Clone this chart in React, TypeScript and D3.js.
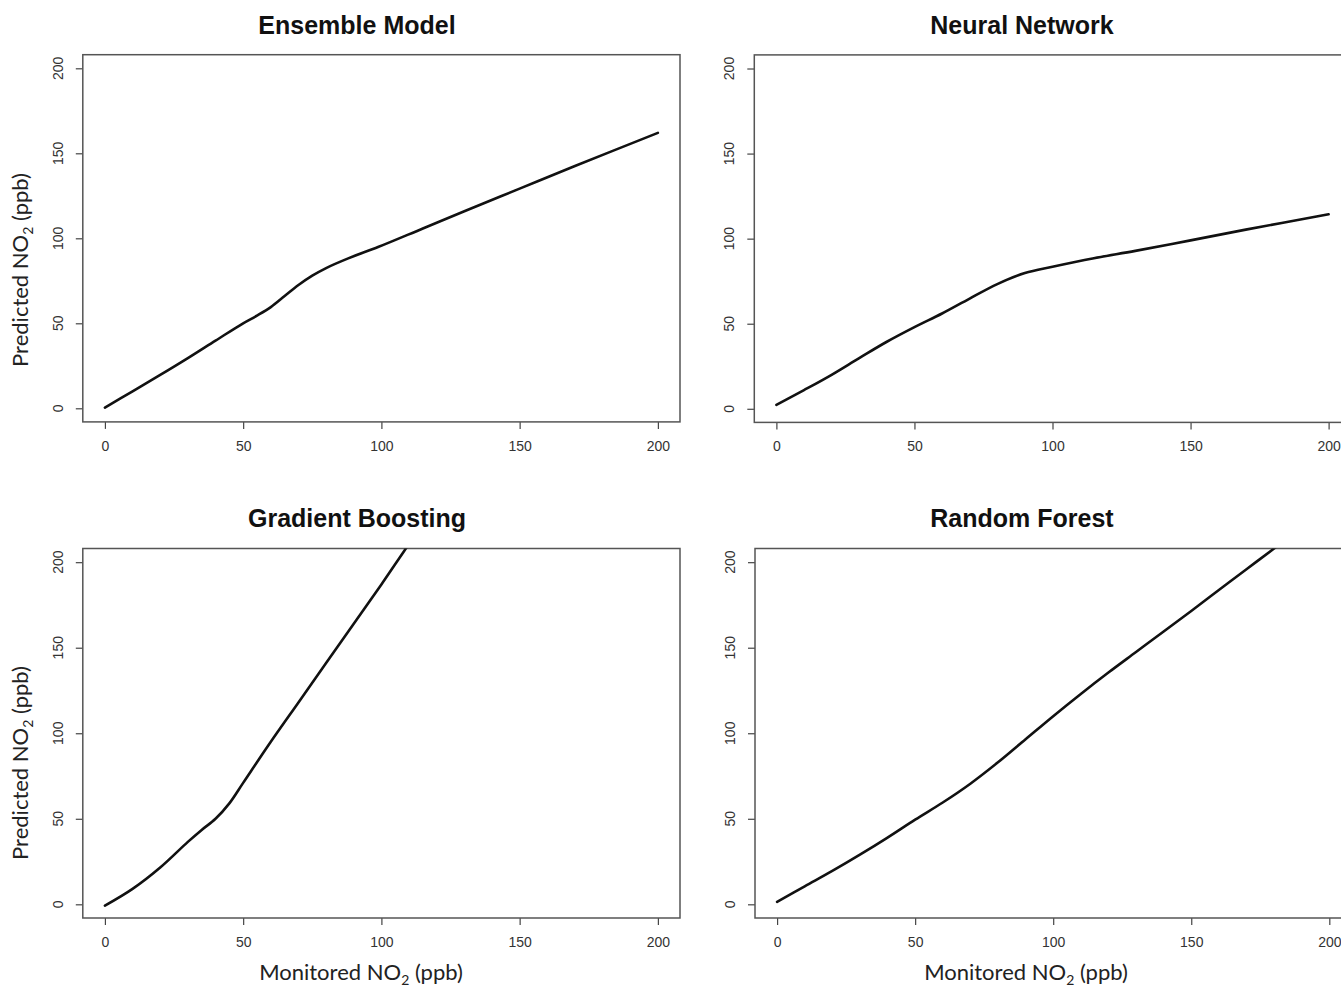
import React, { useEffect, useRef } from "react";
import * as d3 from "d3";

// Monitored NO2 (x) and predicted NO2 (y)
const ensembleMonitored = [0, 10, 20, 30, 40, 50, 55, 60, 65, 70, 75, 80, 88, 99, 115, 130, 150, 170, 200];
const ensemblePredicted = [0.4, 10, 19.6, 29.5, 39.8, 50, 54.5, 59.5, 66, 72.5, 78, 82.5, 88.2, 95, 105.8, 115.9, 129.2, 142.5, 162];

const neuralMonitored = [0, 10, 20, 30, 40, 50, 60, 70, 80, 90, 100, 115, 130, 150, 170, 200];
const neuralPredicted = [2.3, 11, 20, 29.8, 39.4, 48, 56, 64.8, 73.3, 79.8, 83.5, 88.5, 92.8, 99, 105.3, 114.3];

const boostingMonitored = [0, 10, 20, 30, 35, 40, 45, 50, 60, 70, 80, 90, 100, 108, 111];
const boostingPredicted = [-0.8, 9, 21.5, 36.5, 43.5, 50, 59, 71, 95, 118, 141, 164, 187, 206, 213];

const forestMonitored = [0, 10, 20, 30, 40, 50, 60, 70, 80, 90, 100, 110, 120, 130, 140, 150, 160, 170, 180, 183];
const forestPredicted = [1.4, 10.5, 19.5, 29, 39, 49.5, 59.5, 70.5, 83, 96.5, 110, 123, 135.5, 147.5, 159.5, 171.5, 183.7, 195.9, 208, 211.7];

const axisTicks = [0, 50, 100, 150, 200];
const axisDomain = [-8, 208];
const modelTitles = ["Ensemble Model", "Neural Network", "Gradient Boosting", "Random Forest"];

export default function App() {
  const ref = useRef<SVGSVGElement>(null);

  useEffect(() => {
    const svg = d3.select(ref.current);
    svg.selectAll("*").remove();

    const panels = [
      { title: modelTitles[0], xs: ensembleMonitored, ys: ensemblePredicted, xr: [82.8, 680], yr: [421.9, 54.7], titleY: 34, yTitle: true, xTitle: false, titleX: 357, yTitleY: 270 },
      { title: modelTitles[1], xs: neuralMonitored, ys: neuralPredicted, xr: [754.3, 1350.7], yr: [422.4, 54.9], titleY: 34, yTitle: false, xTitle: false, titleX: 1022, yTitleY: 270 },
      { title: modelTitles[2], xs: boostingMonitored, ys: boostingPredicted, xr: [82.8, 680], yr: [918, 548.5], titleY: 527, yTitle: true, xTitle: true, titleX: 357, yTitleY: 763 },
      { title: modelTitles[3], xs: forestMonitored, ys: forestPredicted, xr: [755, 1351.4], yr: [918, 548.5], titleY: 527, yTitle: false, xTitle: true, titleX: 1022, yTitleY: 763 },
    ];

    const tickColor = "#444";
    const labelFont = "'Liberation Sans', Arial, sans-serif";

    panels.forEach((p, i) => {
      const x = d3.scaleLinear().domain(axisDomain).range(p.xr);
      const y = d3.scaleLinear().domain(axisDomain).range(p.yr);
      const g = svg.append("g");
      const clipId = `clip${i}`;
      svg.append("clipPath").attr("id", clipId).append("rect")
        .attr("x", p.xr[0]).attr("y", p.yr[1])
        .attr("width", p.xr[1] - p.xr[0]).attr("height", p.yr[0] - p.yr[1]);

      // x axis
      const xa = g.append("g").attr("transform", `translate(0,${p.yr[0]})`)
        .call(d3.axisBottom(x).tickValues(axisTicks).tickSize(7).tickPadding(12).tickFormat(d3.format("d")));
      xa.select(".domain").remove();
      xa.selectAll("line").attr("stroke", tickColor).attr("stroke-width", 1.2);
      xa.selectAll("text").attr("font-family", labelFont).attr("font-size", 14).attr("fill", "#333");

      // y axis (rotated labels like R default)
      const ya = g.append("g").attr("transform", `translate(${p.xr[0]},0)`)
        .call(d3.axisLeft(y).tickValues(axisTicks).tickSize(7).tickFormat(() => ""));
      ya.select(".domain").remove();
      ya.selectAll("line").attr("stroke", tickColor).attr("stroke-width", 1.2);
      g.selectAll(null).data(axisTicks).enter().append("text")
        .attr("transform", (d) => `translate(${p.xr[0] - 25},${y(d)}) rotate(-90)`)
        .attr("text-anchor", "middle").attr("dominant-baseline", "central")
        .attr("font-family", labelFont).attr("font-size", 14).attr("fill", "#333")
        .text((d) => String(d));

      // box
      g.append("rect").attr("x", p.xr[0]).attr("y", p.yr[1])
        .attr("width", p.xr[1] - p.xr[0]).attr("height", p.yr[0] - p.yr[1])
        .attr("fill", "none").attr("stroke", "#555").attr("stroke-width", 1.5);

      // curve
      const pts = p.xs.map((v, k) => [v, p.ys[k]] as [number, number]);
      const line = d3.line<[number, number]>().x((d) => x(d[0])).y((d) => y(d[1])).curve(d3.curveCatmullRom.alpha(0.5));
      g.append("path").attr("d", line(pts) as string).attr("clip-path", `url(#${clipId})`)
        .attr("fill", "none").attr("stroke", "#111").attr("stroke-width", 2.6)
        .attr("stroke-linejoin", "round").attr("stroke-linecap", "round");

      // title
      g.append("text").attr("x", p.titleX).attr("y", p.titleY).attr("text-anchor", "middle")
        .attr("font-family", labelFont).attr("font-weight", "bold").attr("font-size", 25).attr("fill", "#111")
        .text(p.title);

      const titleFont = "Lato, 'Open Sans', sans-serif";
      if (p.yTitle) {
        const t = g.append("text").attr("transform", `translate(28,${p.yTitleY}) rotate(-90)`)
          .attr("text-anchor", "middle").attr("font-family", titleFont).attr("font-size", 22).attr("fill", "#222");
        t.append("tspan").text("Predicted NO");
        t.append("tspan").attr("font-size", 14).attr("dy", 5).text("2");
        t.append("tspan").attr("dy", -5).text(" (ppb)");
      }
      if (p.xTitle) {
        const t = g.append("text").attr("x", (p.titleX + 4)).attr("y", 980)
          .attr("text-anchor", "middle").attr("font-family", titleFont).attr("font-size", 22).attr("fill", "#222");
        t.append("tspan").text("Monitored NO");
        t.append("tspan").attr("font-size", 14).attr("dy", 5).text("2");
        t.append("tspan").attr("dy", -5).text(" (ppb)");
      }
    });
  }, []);

  return (
    <svg ref={ref} width={1341} height={995}
      style={{ position: "absolute", left: 0, top: 0, display: "block", background: "#fff" }} />
  );
}
